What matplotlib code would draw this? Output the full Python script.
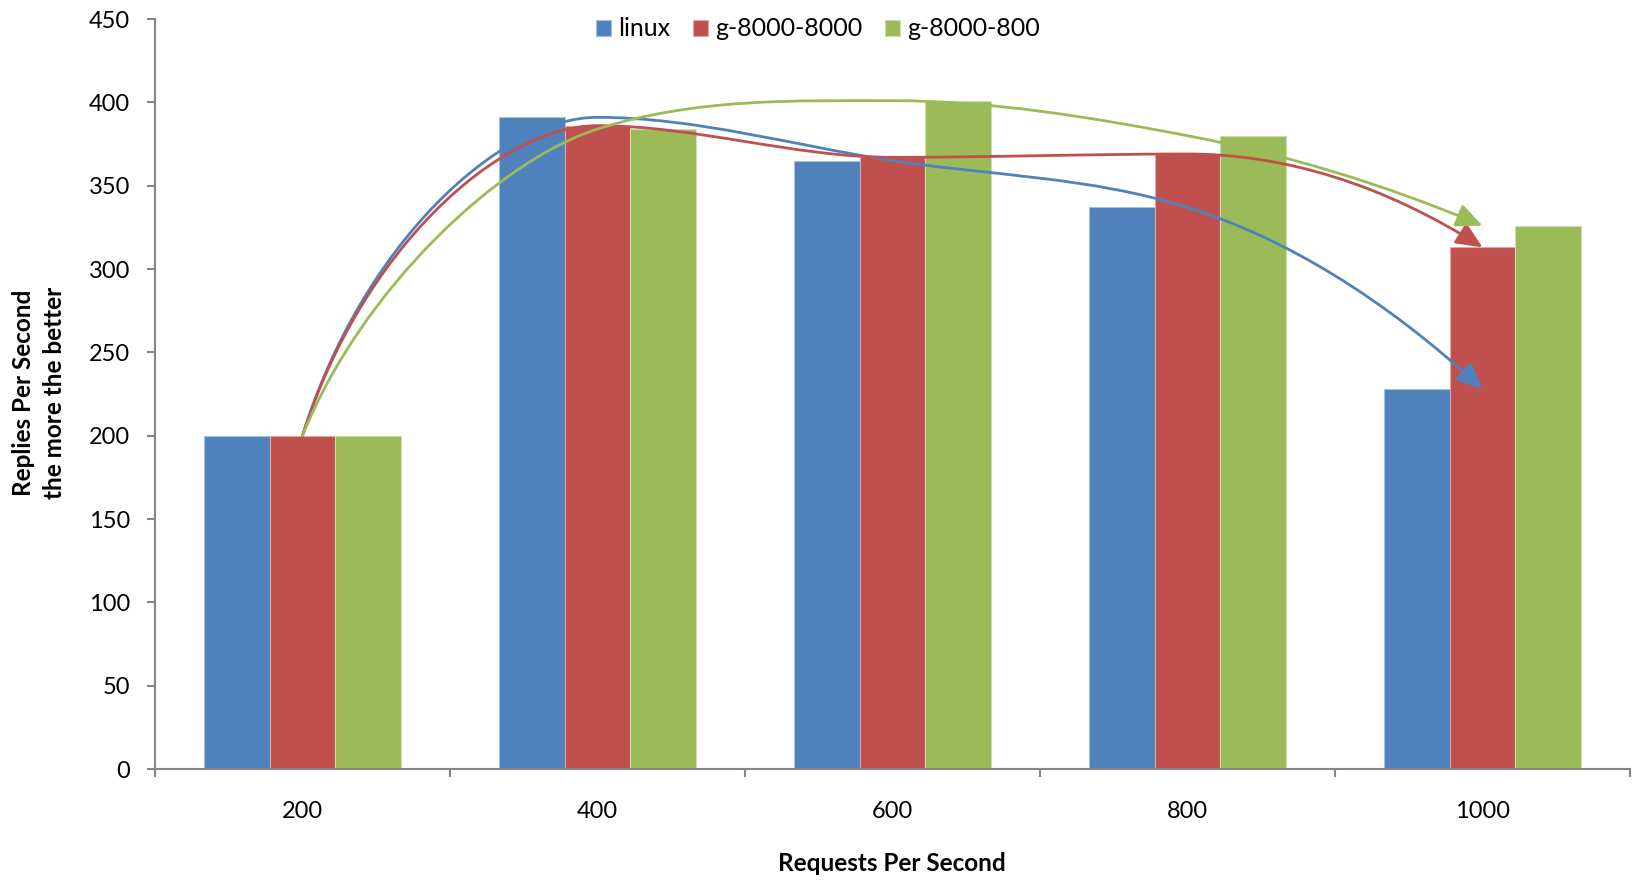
import numpy as np
import matplotlib.pyplot as plt
from matplotlib.path import Path
from matplotlib.patches import FancyArrowPatch

plt.rcParams['font.family'] = ['Lato', 'DejaVu Sans']

categories = ['200', '400', '600', '800', '1000']
series = ['linux', 'g-8000-8000', 'g-8000-800']
linux = [200, 391, 365, 337, 228]
g_8000_8000 = [200, 386, 367, 369, 313]
g_8000_800 = [200, 384, 401, 380, 326]
colors = ['#4F81BD', '#C0504D', '#9BBB59']
edges = ['#A7C0DE', '#DFA8A6', '#CDDDAC']


def tangents(ys):
    # geometric-mean slopes inside (flat at turning points)
    y = np.asarray(ys, dtype=float)
    d = np.diff(y)
    m = np.zeros_like(y)
    for i in range(1, len(y) - 1):
        if d[i - 1] * d[i] > 0:
            m[i] = np.sign(d[i]) * np.sqrt(d[i - 1] * d[i])
    m[0] = 3 * d[0] - 2 * m[1]
    m[-1] = 2 * d[-1] - m[-2]
    return m


def smooth_path(xs, ys):
    m = tangents(ys)
    verts = [(xs[0], ys[0])]
    codes = [Path.MOVETO]
    for i in range(len(xs) - 1):
        arm = 0.2 if i == 0 else 1 / 3
        verts += [(xs[i] + arm, ys[i] + m[i] * arm),
                  (xs[i + 1] - 1 / 3, ys[i + 1] - m[i + 1] / 3),
                  (xs[i + 1], ys[i + 1])]
        codes += [Path.CURVE4] * 3
    return Path(verts, codes)


fig = plt.figure(figsize=(16.33, 8.8), dpi=100)
ax = fig.add_axes([155 / 1633, 1 - 769 / 880, 1475 / 1633, 750 / 880])

x = np.arange(len(categories))
w = 2 / 9
data = [linux, g_8000_8000, g_8000_800]
for k, vals in enumerate(data):
    ax.bar(x + (k - 1) * w, vals, width=w, color=colors[k], edgecolor=edges[k],
           linewidth=0.8, label=series[k], zorder=2)

for k, vals in enumerate(data):
    arrow = FancyArrowPatch(path=smooth_path(x, vals),
                            arrowstyle='-|>,head_length=1.0,head_width=0.45',
                            mutation_scale=16, color=colors[k], lw=2.0, zorder=3)
    ax.add_patch(arrow)

ax.set_xlim(-0.5, 4.5)
ax.set_ylim(0, 450)
ax.set_yticks(np.arange(0, 451, 50))
ax.set_xticks(x)
ax.set_xticklabels(categories)
ax.set_xticks(np.arange(-0.5, 4.6, 1), minor=True)

for s in ['top', 'right']:
    ax.spines[s].set_visible(False)
for s in ['left', 'bottom']:
    ax.spines[s].set_color('#868686')
    ax.spines[s].set_linewidth(1.5)

ax.tick_params(axis='y', length=6, width=1.5, color='#868686', labelsize=17, pad=12)
ax.tick_params(axis='x', which='major', length=0, labelsize=17, pad=23)
ax.tick_params(axis='x', which='minor', length=6, width=1.5, color='#868686')

fig.text(892 / 1633, 1 - 863 / 880, 'Requests Per Second', ha='center', va='center',
         fontsize=17.5, fontweight='bold')
fig.text(39 / 1633, 1 - 393 / 880, 'Replies Per Second\nthe more the better',
         ha='center', va='center', rotation=90, fontsize=17.5, fontweight='bold',
         multialignment='center', linespacing=1.45)

fig.legend(loc='center', bbox_to_anchor=(818 / 1633, 1 - 29 / 880), ncol=3,
           frameon=False, fontsize=18, handlelength=0.6, handleheight=0.6,
           handletextpad=0.3, columnspacing=0.9)

fig.savefig('out.png', dpi=100)
